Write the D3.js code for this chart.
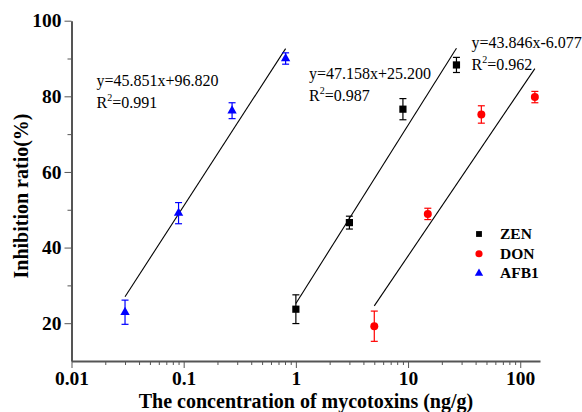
<!DOCTYPE html>
<html>
<head>
<meta charset="utf-8">
<script src="https://cdn.jsdelivr.net/npm/d3@7"></script>
<style>
  body { margin: 0; background: #fff; }
  svg { display: block; font-family: "Liberation Serif", "Times New Roman", serif; }
  .axis path, .axis line { stroke: #555; }
  .axis text { fill: #000; font-weight: bold; font-size: 19.5px; font-family: "Liberation Serif", serif; }
</style>
</head>
<body>
<svg id="chart" width="582" height="412"></svg>
<script>
// series values (x in ng/g, y in %)
var afbX = [0.03, 0.09, 0.27, 0.81];
var afbY = [22.9, 49.1, 76.2, 90.0];
var afbErr = [3.2, 2.8, 2.1, 1.5];

var zenX = [1, 3, 9, 27];
var zenY = [23.7, 46.6, 76.6, 88.3];
var zenErr = [3.8, 1.7, 2.8, 2.0];

var donX = [5, 15, 45, 135];
var donY = [19.2, 48.9, 75.2, 79.8];
var donErr = [4.0, 1.5, 2.3, 1.5];

// linear fits on log10(x)
var fitSlope = [45.851, 47.158, 43.846];
var fitIntercept = [96.820, 25.200, -6.077];
var fitR2 = ["0.991", "0.987", "0.962"];
var fitLabel = ["y=45.851x+96.820", "y=47.158x+25.200", "y=43.846x-6.077"];

var legendNames = ["ZEN", "DON", "AFB1"];
var xMajor = [0.01, 0.1, 1, 10, 100];
var yMajor = [20, 40, 60, 80, 100];
var yMinor = [30, 50, 70, 90];

var svg = d3.select("#chart");

var x = d3.scaleLog().domain([0.01, 150]).range([71.5, 540]);
var y = d3.scaleLinear().domain([10, 100]).range([361, 20.7]);

// minor x ticks 2..9 of each decade
var xMinor = [];
[0.01, 0.1, 1, 10, 100].forEach(function(d) {
    for (var k = 2; k <= 9; k++) {
        var v = d * k;
        if (v < 150) xMinor.push(v);
    }
});

// AXES
svg.append("g")
    .attr("class", "axis")
    .attr("transform", "translate(0," + y(10) + ")")
    .call(d3.axisBottom(x).tickValues(xMinor).tickSize(4).tickFormat("").tickSizeOuter(0))
    .call(function(g) { g.select(".domain").remove(); });

svg.append("g")
    .attr("class", "axis")
    .attr("transform", "translate(" + x(0.01) + ",0)")
    .call(d3.axisLeft(y).tickValues(yMinor).tickSize(4).tickFormat("").tickSizeOuter(0))
    .call(function(g) { g.select(".domain").remove(); });

var xAxis = svg.append("g")
    .attr("class", "axis")
    .attr("transform", "translate(0," + y(10) + ")")
    .call(d3.axisBottom(x).tickValues(xMajor).tickSize(7).tickSizeOuter(0)
          .tickFormat(function(d) { return String(d); }));
xAxis.select(".domain").attr("stroke-width", 2);
xAxis.selectAll(".tick text").attr("dy", "0.71em").attr("y", 10.5);

var yAxis = svg.append("g")
    .attr("class", "axis")
    .attr("transform", "translate(" + x(0.01) + ",0)")
    .call(d3.axisLeft(y).tickValues(yMajor).tickSize(7).tickSizeOuter(0));
yAxis.select(".domain").attr("stroke-width", 2);
yAxis.selectAll(".tick text").attr("x", -10);

// AXIS TITLES
svg.append("text")
    .attr("x", 306)
    .attr("y", 408)
    .attr("text-anchor", "middle")
    .attr("font-weight", "bold")
    .attr("font-size", 20)
    .text("The concentration of mycotoxins (ng/g)");

svg.append("text")
    .attr("transform", "translate(28,196) rotate(-90)")
    .attr("text-anchor", "middle")
    .attr("font-weight", "bold")
    .attr("font-size", 20)
    .text("Inhibition ratio(%)");

// SERIES
var series = [
    { xs: afbX, ys: afbY, err: afbErr, color: "#0000ff", sym: d3.symbolTriangle, size: 38, fit: 0 },
    { xs: zenX, ys: zenY, err: zenErr, color: "#000000", sym: d3.symbolSquare, size: 52, fit: 1 },
    { xs: donX, ys: donY, err: donErr, color: "#ff0000", sym: d3.symbolCircle, size: 50, fit: 2 }
];

var line = d3.line()
    .x(function(d) { return x(d[0]); })
    .y(function(d) { return y(d[1]); });

series.forEach(function(s) {
    var i = s.fit;
    var x0 = s.xs[0], x1 = s.xs[s.xs.length - 1];
    var pts = [x0, x1].map(function(v) {
        return [v, fitSlope[i] * Math.log10(v) + fitIntercept[i]];
    });
    svg.append("path")
        .attr("d", line(pts))
        .attr("fill", "none")
        .attr("stroke", "#000")
        .attr("stroke-width", 1.1);
});

series.forEach(function(s) {
    var g = svg.append("g");
    var pts = s.xs.map(function(v, j) { return { x: v, y: s.ys[j], e: s.err[j] }; });
    var eb = g.selectAll(".eb").data(pts).enter().append("g")
        .attr("stroke", s.color)
        .attr("stroke-width", 1.2);
    eb.append("line")
        .attr("x1", function(d) { return x(d.x); })
        .attr("x2", function(d) { return x(d.x); })
        .attr("y1", function(d) { return y(d.y + d.e); })
        .attr("y2", function(d) { return y(d.y - d.e); });
    eb.append("line")
        .attr("x1", function(d) { return x(d.x) - 3.5; })
        .attr("x2", function(d) { return x(d.x) + 3.5; })
        .attr("y1", function(d) { return y(d.y + d.e); })
        .attr("y2", function(d) { return y(d.y + d.e); });
    eb.append("line")
        .attr("x1", function(d) { return x(d.x) - 3.5; })
        .attr("x2", function(d) { return x(d.x) + 3.5; })
        .attr("y1", function(d) { return y(d.y - d.e); })
        .attr("y2", function(d) { return y(d.y - d.e); });
    g.selectAll(".pt").data(pts).enter().append("path")
        .attr("d", d3.symbol().type(s.sym).size(s.size))
        .attr("fill", s.color)
        .attr("transform", function(d) { return "translate(" + x(d.x) + "," + y(d.y) + ")"; });
});

// EQUATIONS
var eqPos = [[96.5, 86], [309, 79], [471.5, 48.3]];
eqPos.forEach(function(p, i) {
    svg.append("text")
        .attr("x", p[0]).attr("y", p[1])
        .attr("font-size", 16)
        .text(fitLabel[i]);
    var t = svg.append("text")
        .attr("x", p[0]).attr("y", p[1] + 22)
        .attr("font-size", 16);
    t.append("tspan").text("R");
    t.append("tspan").attr("font-size", 10).attr("dy", -7).text("2");
    t.append("tspan").attr("dy", 7).text("=" + fitR2[i]);
});

// LEGEND
var legSeries = [series[1], series[2], series[0]];
var legSizes = [34, 40, 30];
legSeries.forEach(function(s, i) {
    var cy = 234 + i * 19.7;
    svg.append("path")
        .attr("d", d3.symbol().type(s.sym).size(legSizes[i]))
        .attr("fill", s.color)
        .attr("transform", "translate(479," + cy + ")");
    svg.append("text")
        .attr("x", 500).attr("y", cy + 5)
        .attr("font-size", 15.5)
        .attr("font-weight", "bold")
        .text(legendNames[i]);
});
</script>
</body>
</html>
